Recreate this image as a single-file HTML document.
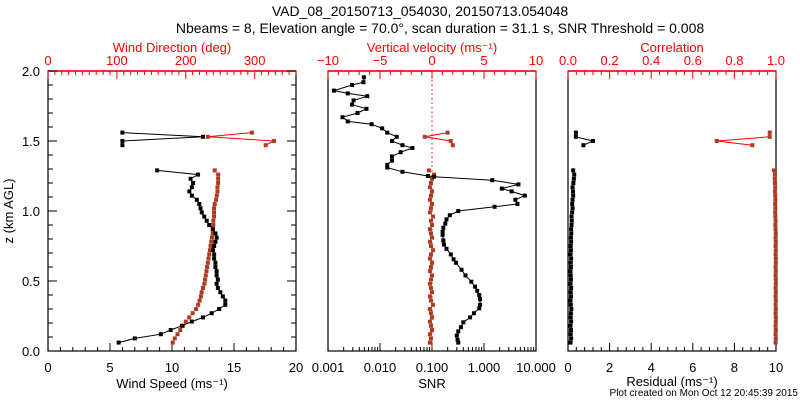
<!DOCTYPE html>
<html><head><meta charset="utf-8"><style>
body{margin:0;background:#fff}
svg{display:block;font-family:"Liberation Sans",sans-serif}
</style></head><body>
<svg id="c" width="800" height="400" viewBox="0 0 800 400">
<text x="420" y="16" font-size="14" text-anchor="middle">VAD_08_20150713_054030, 20150713.054048</text>
<text x="440" y="33" font-size="14" text-anchor="middle">Nbeams = 8, Elevation angle = 70.0°, scan duration = 31.1 s, SNR Threshold = 0.008</text>
<text x="13" y="211" font-size="13" text-anchor="middle" transform="rotate(-90 13 211)">z (km AGL)</text>
<text x="798" y="396" font-size="10" text-anchor="end">Plot created on Mon Oct 12 20:45:39 2015</text>
</svg>
<script>
// lower-level heights (km) shared by speed/direction/w/residual/correlation
const zLow = [0.06,0.09,0.12,0.15,0.18,0.21,0.24,0.27,0.30,0.33,0.36,0.39,0.42,0.45,0.48,0.51,0.54,0.57,0.60,0.63,0.66,0.69,0.72,0.75,0.78,0.81,0.84,0.87,0.90,0.93,0.96,0.99,1.02,1.05,1.08,1.11,1.14,1.17,1.20,1.23,1.26,1.29];
const speedLow = [5.7,7.0,9.1,9.9,10.8,11.6,12.5,13.2,13.8,14.3,14.3,14.1,13.9,13.7,13.6,13.7,13.6,13.6,13.5,13.5,13.4,13.4,13.3,13.4,13.5,13.6,13.5,13.3,13.0,12.8,12.6,12.4,12.3,12.2,12.0,11.6,11.4,11.6,11.7,11.5,12.1,8.8];
const dirLow = [181,184,188,192,196,200,205,210,215,218,220,222,223,225,227,228,229,230,231,232,233,234,235,236,237,238,239,239,240,240,241,241,241,242,244,245,246,246,247,247,247,242];
const wLow = [-0.2,-0.1,-0.2,0.0,-0.1,-0.2,0.0,-0.1,-0.2,0.1,-0.1,-0.2,0.0,-0.1,-0.2,-0.1,0.0,-0.2,-0.1,0.0,-0.2,-0.1,0.1,-0.1,-0.2,0.0,-0.1,-0.2,0.0,-0.1,0.1,-0.2,-0.1,0.0,-0.2,-0.1,0.0,-0.2,-0.1,0.0,0.2,-0.3];
const residLow = [0.12,0.15,0.13,0.14,0.12,0.15,0.13,0.14,0.16,0.13,0.12,0.14,0.13,0.15,0.12,0.14,0.13,0.12,0.14,0.13,0.15,0.12,0.14,0.13,0.15,0.14,0.16,0.15,0.17,0.18,0.17,0.2,0.22,0.2,0.22,0.25,0.24,0.22,0.26,0.28,0.3,0.25];
const corrLow = [0.998,0.999,0.998,0.999,0.998,0.999,0.999,0.998,0.999,0.998,0.999,0.998,0.999,0.998,0.999,0.999,0.998,0.999,0.998,0.999,0.999,0.998,0.999,0.998,0.999,0.998,0.999,0.998,0.997,0.998,0.997,0.996,0.997,0.996,0.997,0.996,0.995,0.996,0.995,0.994,0.995,0.99];
// upper-level heights
const zUp = [1.56,1.53,1.50,1.47];
const speedUp = [6.0,12.5,6.0,6.0];
const dirUp = [296,232,328,316];
const wUp = [1.5,-0.7,1.8,2.0];
const residUp = [0.38,0.38,1.2,0.74];
const corrUp = [0.97,0.97,0.715,0.886];
// SNR profile
const zSnr = [1.955,1.92,1.90,1.86,1.84,1.82,1.79,1.76,1.73,1.70,1.67,1.64,1.62,1.59,1.56,1.53,1.50,1.47,1.45,1.42,1.39,1.36,1.33,1.31,1.28,1.25,1.245,1.22,1.19,1.16,1.14,1.11,1.08,1.05,1.03,1.00,0.97,0.94,0.91,0.88,0.85,0.83,0.79,0.76,0.73,0.69,0.655,0.63,0.58,0.54,0.495,0.46,0.43,0.40,0.37,0.33,0.305,0.27,0.24,0.205,0.17,0.14,0.11,0.08,0.06];
const snr = [0.0049,0.0048,0.0029,0.0013,0.0024,0.0057,0.0031,0.0029,0.0055,0.0037,0.0019,0.0024,0.0069,0.011,0.0138,0.021,0.017,0.027,0.042,0.025,0.017,0.017,0.0138,0.0138,0.027,0.084,0.11,1.44,4.6,2.2,3.4,6.1,4.0,4.4,1.6,0.32,0.22,0.19,0.18,0.165,0.16,0.16,0.165,0.17,0.19,0.23,0.26,0.29,0.37,0.44,0.57,0.67,0.74,0.81,0.84,0.84,0.81,0.64,0.54,0.40,0.36,0.32,0.30,0.31,0.32];
// tick labels
const zTicks = ["0.0","0.5","1.0","1.5","2.0"];
const speedTicks = ["0","5","10","15","20"];
const dirTicks = ["0","100","200","300"];
const wTicks = ["\u221210","\u22125","0","5","10"];
const snrTicks = ["0.001","0.010","0.100","1.000","10.000"];
const corrTicks = ["0.0","0.2","0.4","0.6","0.8","1.0"];
const residTicks = ["0","2","4","6","8","10"];

const svg=document.getElementById('c');
const NS='http://www.w3.org/2000/svg';
const RED='#ff0000', BR='#b03a20';
const TOP=71,BOT=351;
const yz=z=>BOT-(z/2)*(BOT-TOP);
function mk(tag,at){const e=document.createElementNS(NS,tag);for(const k in at)e.setAttribute(k,at[k]);svg.appendChild(e);return e;}
function txt(x,y,s,col,size,name){const t=mk('text',{x:x,y:y,'font-size':size,'text-anchor':'middle',fill:col});t.textContent=s;


return t;}
const panels=[[48,296],[328,536],[568,776]];
panels.forEach((p,i)=>{
 const r=mk('rect',{x:p[0],y:TOP,width:p[1]-p[0],height:BOT-TOP,fill:'none',stroke:'#000','stroke-width':1.2});
 
 
 const tl=mk('line',{x1:p[0],x2:p[1],y1:TOP,y2:TOP,stroke:RED,'stroke-width':1.5});
 
 
});
// y ticks panel 1
for(let k=0;k<=20;k++){const y=yz(k/10);const L=k%5==0?9:5;
 mk('line',{x1:48,x2:48+L,y1:y,y2:y,stroke:'#000'});mk('line',{x1:296,x2:296-L,y1:y,y2:y,stroke:'#000'});}
zTicks.forEach((s,i)=>txt(31,yz(i*0.5)+5,s,'#000',13,'y-tick-label'));
function xTicksLinear(p,n,minor,labels,yl,col,top,name){
 const w=p[1]-p[0];
 for(let k=0;k<=n*minor;k++){const x=p[0]+w*k/(n*minor);const L=k%minor==0?8:4;
  if(top)mk('line',{x1:x,x2:x,y1:TOP,y2:TOP+L,stroke:RED});else mk('line',{x1:x,x2:x,y1:BOT,y2:BOT-L,stroke:'#000'});}
 labels.forEach((s,i)=>txt(p[0]+w*i/n,yl,s,col,13,name));
}
xTicksLinear(panels[0],4,5,speedTicks,372,'#000',false,'speed-tick-label');
// direction top axis 0..360
{const p=panels[0],w=p[1]-p[0];for(let d=0;d<=360;d+=10){const x=p[0]+w*d/360;const L=d%100==0?8:4;mk('line',{x1:x,x2:x,y1:TOP,y2:TOP+L,stroke:RED});}
 dirTicks.forEach((s,i)=>txt(p[0]+w*(i*100)/360,65,s,RED,13,'direction-tick-label'));}
xTicksLinear(panels[1],4,5,wTicks,65,RED,true,'w-tick-label');
xTicksLinear(panels[2],5,5,corrTicks,65,RED,true,'corr-tick-label');
xTicksLinear(panels[2],5,5,residTicks,372,'#000',false,'resid-tick-label');
// log axis SNR
const xs=v=>328+(Math.log10(v)+3)*52;
for(let d=-3;d<1;d++)for(let m=1;m<10;m++){const x=xs(m*Math.pow(10,d));mk('line',{x1:x,x2:x,y1:BOT,y2:BOT-(m==1?8:4),stroke:'#000'});}
snrTicks.forEach((s,i)=>txt(328+i*52,372,s,'#000',13,'snr-tick-label'));
// axis titles
txt(172,52,'Wind Direction (deg)',RED,13,'direction-axis-title');
txt(432,52,'Vertical velocity (ms\u207B\u00B9)',RED,13,'w-axis-title');
txt(672,52,'Correlation',RED,13,'corr-axis-title');
txt(172,388,'Wind Speed (ms\u207B\u00B9)','#000',13,'speed-axis-title');
txt(432,388,'SNR','#000',13,'snr-axis-title');
txt(672,386,'Residual (ms\u207B\u00B9)','#000',13,'resid-axis-title');
// zero line
{const x=432;const l=mk('line',{x1:x,x2:x,y1:TOP,y2:BOT,stroke:RED,'stroke-dasharray':'1.5 3'});

}
// scales
const xSpeed=v=>48+v/20*248, xDir=v=>48+v/360*248, xW=v=>432+v*10.4, xRes=v=>568+v*20.8, xCorr=v=>568+v*208;
function series(zs,vals,fx,lineCol,markCol,name,line){
 const pts=zs.map((z,i)=>[fx(vals[i]),yz(z)]);
 if(line){const pl=mk('polyline',{points:pts.map(p=>p.join(',')).join(' '),fill:'none',stroke:lineCol,'stroke-width':1});
 
 }
 pts.forEach(p=>{const c=mk('rect',{x:p[0]-2,y:p[1]-2,width:4,height:4,fill:markCol});
 
 });
}
series(zLow,dirLow,xDir,BR,BR,'direction-low',false);
series(zUp,dirUp,xDir,RED,BR,'direction-up',true);
series(zLow,speedLow,xSpeed,'#000','#000','speed-low',true);
series(zUp,speedUp,xSpeed,'#000','#000','speed-up',true);
series(zLow,wLow,xW,BR,BR,'w-low',false);
series(zUp,wUp,xW,RED,BR,'w-up',true);
series(zSnr,snr,xs,'#000','#000','snr',true);
series(zLow,corrLow,xCorr,BR,BR,'corr-low',false);
series(zUp,corrUp,xCorr,RED,BR,'corr-up',true);
series(zLow,residLow,xRes,'#000','#000','resid-low',false);
series(zUp,residUp,xRes,'#000','#000','resid-up',true);
</script>
</body></html>
